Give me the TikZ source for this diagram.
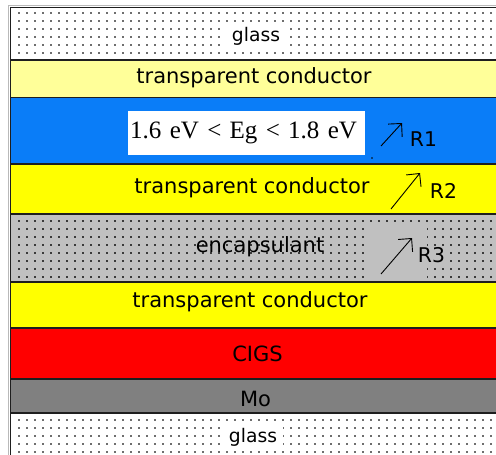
\documentclass[tikz,border=0pt]{standalone}
\usepackage{fontspec}
\setmainfont{DejaVu Sans}
\newfontfamily\egfont{Liberation Serif}
\usetikzlibrary{arrows.meta}
\definecolor{paleyellow}{HTML}{FFFF99}
\definecolor{cellblue}{HTML}{0A7DF8}
\definecolor{tcoyellow}{HTML}{FFFF00}
\definecolor{encgray}{HTML}{C0C0C0}
\definecolor{cigsred}{HTML}{FF0000}
\definecolor{mogray}{HTML}{808080}
\definecolor{edge}{HTML}{1E1E1E}
\definecolor{dotgray}{HTML}{6E6E6E}
\definecolor{dotdark}{HTML}{3A3A3A}
\tikzset{
  layer/.style={draw=edge,line width=1.6pt},
  lbl/.style={inner sep=0pt,font=\fontsize{21}{25}\selectfont},
  glasslbl/.style={fill=white,inner xsep=6pt,inner ysep=5pt,font=\fontsize{18.7}{22}\selectfont},
  rlbl/.style={inner sep=1pt,font=\fontsize{20.3}{24}\selectfont},
  refl/.style={-{Straight Barb[length=9.5pt,width=19pt]},line width=0.9pt}
}
\begin{document}
\begin{tikzpicture}[x=1pt,y=-1pt]
  \useasboundingbox (0,0) rectangle (496,455);
  % stack of layers, top to bottom
  \foreach \ya/\yb/\col in {7.5/60/white,60/97.5/paleyellow,97.5/164/cellblue,
      164/214/tcoyellow,214/282/encgray,282/328/tcoyellow,328/379/cigsred,
      379/413/mogray,413/470/white}
    \filldraw[layer,fill=\col] (10.5,\ya) rectangle (510,\yb);
  \draw[gray!55,line width=0.8pt] (8.3,470) |- (510,5.5);
  % dot fill for glass and encapsulant
  \foreach \r in {0,...,5} \foreach \c in {0,...,59}
    \fill[dotgray] (17.5+8*\c,12.3+8*\r) rectangle ++(2,2);
  \foreach \r in {0,...,4} \foreach \c in {0,...,59}
    \fill[dotgray] (17.5+8*\c,419+8*\r) rectangle ++(2,2);
  \foreach \r in {0,...,7} \foreach \c in {0,...,59}
    \fill[dotdark] (17.5+8*\c,220+8*\r) rectangle ++(2,2);
  \fill[encgray] (365,226) rectangle (427,280);

  \node[glasslbl] (glasstop) at (256,36) {glass};
  \node[lbl] (tctop) at (254,77.8) {transparent conductor};
  \node[fill=white,anchor=north west,minimum width=237pt,minimum height=44pt,
        inner xsep=2pt,text width=233pt,align=left,
        font=\egfont\fontsize{25}{28}\selectfont] (eg) at (128,111)
    {1.6 eV < Eg < 1.8 eV};
  \node[lbl] (tcmid) at (252,188) {transparent conductor};
  \node[lbl] (encap) at (260,246.5) {encapsulant};
  \node[lbl] (tcbot) at (250,301.7) {transparent conductor};
  \node[lbl] (cigs) at (257.5,354) {CIGS};
  \node[lbl] (mo) at (255.5,398.5) {Mo};
  \node[glasslbl,inner ysep=4pt] (glassbot) at (253,437) {glass};
  \fill (372,158) circle (0.9);

  % reflections at the interfaces
  \coordinate (r1a) at (381,146);
  \coordinate (r1b) at (402,123);
  \draw[refl] (r1a) -- (r1b);
  \node[rlbl] (r1) at (423.5,139) {R1};
  \coordinate (r2a) at (391,209);
  \coordinate (r2b) at (420,173);
  \draw[refl] (r2a) -- (r2b);
  \node[rlbl] (r2) at (443.5,191.3) {R2};
  \coordinate (r3a) at (381,274);
  \coordinate (r3b) at (412,238);
  \draw[refl] (r3a) -- (r3b);
  \node[rlbl,fill=encgray,inner sep=2pt] (r3) at (431.5,255.5) {R3};
\end{tikzpicture}
\end{document}
